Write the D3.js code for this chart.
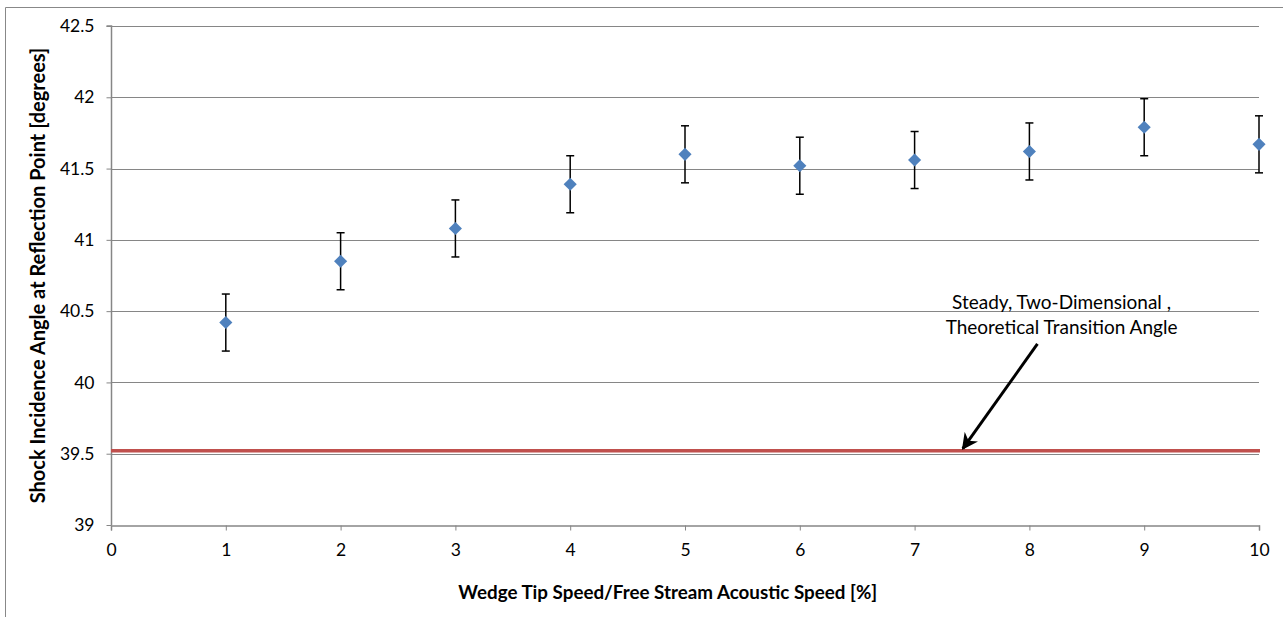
<!DOCTYPE html>
<html>
<head>
<meta charset="utf-8">
<script src="https://cdn.jsdelivr.net/npm/d3@7"></script>
<style>
  body { margin: 0; background: #fff; }
  text { font-family: Lato, "Open Sans", sans-serif; fill: #000; }
</style>
</head>
<body>
<div id="graph-container"></div>
<script>
// Data
const speeds = [1, 2, 3, 4, 5, 6, 7, 8, 9, 10];
const angles = [40.42, 40.85, 41.08, 41.39, 41.6, 41.52, 41.56, 41.62, 41.79, 41.67];
const errors = [0.2, 0.2, 0.2, 0.2, 0.2, 0.2, 0.2, 0.2, 0.2, 0.2];
const xTicks = [0, 1, 2, 3, 4, 5, 6, 7, 8, 9, 10];
const yTicks = [39, 39.5, 40, 40.5, 41, 41.5, 42, 42.5];
const transitionAngle = 39.52;
const noteLines = ["Steady, Two-Dimensional ,", "Theoretical Transition Angle"];

// Dimensions
const width = 1283;
const height = 617;
const margin = { top: 26, bottom: 92, left: 111, right: 24 };

const xScale = d3.scaleLinear().domain([0, 10]).range([margin.left, width - margin.right]);
const yScale = d3.scaleLinear().domain([39, 42.5]).range([height - margin.bottom, margin.top]);

const svg = d3.select("#graph-container").append("svg")
  .attr("width", width).attr("height", height);

// chart border (only left and top visible)
svg.append("path")
  .attr("d", `M5.5,${height} V7.5 H${width}`)
  .attr("fill", "none").attr("stroke", "#888").attr("stroke-width", 1);

// gridlines
svg.append("g")
  .selectAll("line")
  .data(yTicks.slice(1))
  .enter().append("line")
  .attr("x1", margin.left).attr("x2", width - margin.right)
  .attr("y1", (d) => Math.round(yScale(d)) + 0.5)
  .attr("y2", (d) => Math.round(yScale(d)) + 0.5)
  .attr("stroke", "#868686").attr("stroke-width", 1);

// Axes
const xAxis = svg.append("g")
  .attr("transform", `translate(0, ${Math.round(yScale(39)) + 0.5})`)
  .call(d3.axisBottom(xScale).tickValues(xTicks).tickSize(5).tickPadding(13).tickFormat(d3.format("d")));
const yAxis = svg.append("g")
  .attr("transform", `translate(${margin.left + 0.5},0)`)
  .call(d3.axisLeft(yScale).tickValues(yTicks).tickSize(5).tickPadding(12).tickFormat((d) => d));

[xAxis, yAxis].forEach((ax) => {
  ax.select(".domain").attr("stroke", "#868686").attr("stroke-width", 1.5);
  ax.selectAll(".tick line").attr("stroke", "#868686");
  ax.selectAll("text").style("font-size", "17.5px").style("font-family", "Lato, sans-serif").attr("fill", "#000");
});
yAxis.select(".domain").attr("d", `M-5,${yScale(42.5)}H0V${yScale(39)}`);

// transition angle line
svg.append("line")
  .attr("x1", xScale(0)).attr("x2", xScale(10) + 1)
  .attr("y1", yScale(transitionAngle)).attr("y2", yScale(transitionAngle))
  .attr("stroke", "#C0504D").attr("stroke-width", 3.5);

// error bars
const points = speeds.map((s, i) => ({ x: s, y: angles[i], e: errors[i] }));
const bars = svg.append("g").selectAll("g").data(points).enter().append("g");
bars.append("line")
  .attr("x1", (d) => xScale(d.x)).attr("x2", (d) => xScale(d.x))
  .attr("y1", (d) => yScale(d.y + d.e)).attr("y2", (d) => yScale(d.y - d.e))
  .attr("stroke", "#000").attr("stroke-width", 1.5);
bars.selectAll(".cap")
  .data((d) => [d.y + d.e, d.y - d.e].map((v) => ({ x: d.x, v })))
  .enter().append("line")
  .attr("x1", (d) => xScale(d.x) - 4).attr("x2", (d) => xScale(d.x) + 4)
  .attr("y1", (d) => yScale(d.v)).attr("y2", (d) => yScale(d.v))
  .attr("stroke", "#000").attr("stroke-width", 1.5);

// markers
svg.append("g").selectAll("path")
  .data(points).enter().append("path")
  .attr("d", d3.symbol(d3.symbolDiamond2, 110))
  .attr("transform", (d) => `translate(${xScale(d.x)},${yScale(d.y)})`)
  .attr("fill", "#4F81BD");

// annotation
svg.append("defs").append("marker")
  .attr("id", "arrow").attr("viewBox", "0 0 10 10")
  .attr("refX", 9).attr("refY", 5)
  .attr("markerWidth", 5.5).attr("markerHeight", 5.5)
  .attr("orient", "auto")
  .append("path").attr("d", "M0,0 L10,5 L0,10 L3,5 z").attr("fill", "#000");

svg.append("line")
  .attr("x1", xScale(8.07)).attr("y1", yScale(40.27))
  .attr("x2", xScale(7.42)).attr("y2", yScale(39.535))
  .attr("stroke", "#000").attr("stroke-width", 3)
  .attr("marker-end", "url(#arrow)");

svg.append("text")
  .attr("text-anchor", "middle")
  .style("font-size", "19px")
  .selectAll("tspan").data(noteLines).enter().append("tspan")
  .attr("x", xScale(8.28))
  .attr("y", (d, i) => yScale(40.517) + i * 25)
  .text((d) => d);

// Axis titles
svg.append("text")
  .attr("x", xScale(4.85)).attr("y", 599)
  .attr("text-anchor", "middle")
  .style("font-size", "18.8px").style("font-weight", "bold")
  .text("Wedge Tip Speed/Free Stream Acoustic Speed [%]");

svg.append("text")
  .attr("transform", `translate(45, ${yScale(40.75)}) rotate(-90)`)
  .attr("text-anchor", "middle")
  .style("font-size", "20px").style("font-weight", "bold")
  .text("Shock Incidence Angle at Reflection Point [degrees]");
</script>
</body>
</html>
